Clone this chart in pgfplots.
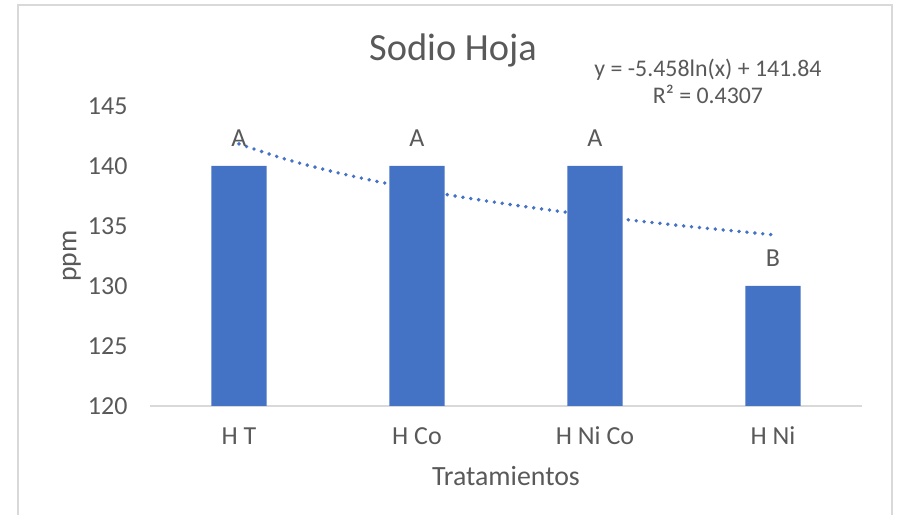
\documentclass[border=0pt]{standalone}
\usepackage{fontspec}
\setmainfont{Carlito}
\usepackage{pgfplots}
\pgfplotsset{compat=1.18}

\definecolor{barblue}{HTML}{4472C4}
\definecolor{txtgray}{HTML}{595959}
\definecolor{linegray}{HTML}{D9D9D9}

\begin{document}
\begin{tikzpicture}
\begin{axis}[
    at={(0,0)}, anchor=south west,
    scale only axis,
    width=268.7pt, height=113.2pt,
    xmin=0.5, xmax=4.5,
    ymin=120, ymax=145,
    ytick={120,125,...,145},
    xtick={1,2,3,4},
    xticklabels={H T, H Co, H Ni Co, H Ni},
    axis x line*=bottom, axis y line*=left,
    x axis line style={draw=linegray, line width=0.75pt, -},
    y axis line style={draw=none},
    tick style={draw=none},
    /pgf/number format/assume math mode=true,
    tick label style={font=\fontsize{9.8}{12}\selectfont, text=txtgray},
    yticklabel style={anchor=east, inner sep=0pt, xshift=-8.3pt},
    xticklabel style={anchor=base, inner sep=0pt, yshift=-14.7pt},
    xlabel={Tratamientos},
    ylabel={ppm},
    label style={font=\fontsize{10.5}{12}\selectfont, text=txtgray},
    x label style={at={(axis description cs:0.5,-0.265)}, anchor=base, inner sep=0pt},
    y label style={at={(axis description cs:-0.1096,0.5)}, anchor=center, rotate=0, inner sep=0pt},
    clip=false,
]

% trendline (logarithmic fit)
\addplot[barblue, line width=1.45pt, line cap=round, dash pattern=on 0pt off 3pt, smooth]
coordinates {
    (1,141.84) (1.25,140.62) (1.5,139.63) (1.75,138.79) (2,138.06)
    (2.25,137.41) (2.5,136.84) (2.75,136.32) (3,135.84) (3.25,135.41)
    (3.5,135.00) (3.75,134.63) (4,134.27)
};

% bars
\addplot[ybar, bar width=20.8pt, fill=barblue, draw=none,
    nodes near coords, point meta=explicit symbolic,
    nodes near coords style={anchor=base, inner sep=0pt, yshift=7.2pt,
        font=\fontsize{9.8}{12}\selectfont, text=txtgray}]
coordinates {
    (1,140) [A]
    (2,140) [A]
    (3,140) [A]
    (4,130) [B]
};

\node[anchor=base, inner sep=0pt, text=txtgray, font=\fontsize{14.5}{17}\selectfont]
    at (axis description cs:0.4256,1.1533) {Sodio Hoja};
\node[anchor=base, inner sep=0pt, text=txtgray, font=\fontsize{9}{11}\selectfont]
    at (axis description cs:0.7837,1.0967) {y = -5.458ln(x) + 141.84};
\node[anchor=base, inner sep=0pt, text=txtgray, font=\fontsize{9}{11}\selectfont]
    at (axis description cs:0.7837,1.0067) {R² = 0.4307};
\end{axis}

\draw[linegray, line width=0.75pt] (-49.8pt,-60pt) rectangle (280.0pt,151.3pt);
\pgfresetboundingbox
\path[use as bounding box] (-56.6pt,-41.1pt) rectangle (281.9pt,153.2pt);
\end{tikzpicture}
\end{document}
